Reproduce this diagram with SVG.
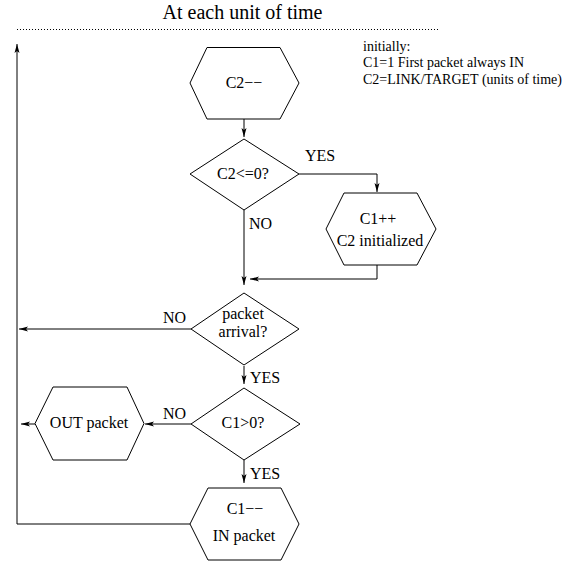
<svg xmlns="http://www.w3.org/2000/svg" width="581" height="563" viewBox="0 0 581 563">
<style>
.shape{fill:#fff;stroke:#000;stroke-width:1}
.ln{fill:none;stroke:#000;stroke-width:1}
.t{font-family:"Liberation Serif","Times New Roman",serif;font-size:16px;fill:#000}
.c{text-anchor:middle}
.note{font-family:"Liberation Serif","Times New Roman",serif;font-size:14px;fill:#000}
.title{font-family:"Liberation Serif","Times New Roman",serif;font-size:20px;fill:#000;text-anchor:middle}
</style>
<defs>
<marker id="ah" viewBox="0 0 9 6" refX="9" refY="3" markerWidth="9" markerHeight="6" markerUnits="userSpaceOnUse" orient="auto">
<path d="M0,0.5 L9,3 L0,5.5 L2,3 z" fill="#000"/>
</marker>
</defs>
<rect width="581" height="563" fill="#fff"/>
<text class="title" x="242.5" y="19">At each unit of time</text>
<line x1="17" y1="29.5" x2="438" y2="29.5" stroke="#000" stroke-width="1" stroke-dasharray="1 2"/>
<g id="note">
<text class="note" x="363" y="51">initially:</text>
<text class="note" x="363" y="67">C1=1 First packet always IN</text>
<text class="note" x="363" y="84">C2=LINK/TARGET (units of time)</text>
</g>
<g id="connectors">
<path class="ln" d="M244,119 L244,137" marker-end="url(#ah)"/>
<path class="ln" d="M299,174 L377,174 L377,192" marker-end="url(#ah)"/>
<path class="ln" d="M244,210 L244,285" marker-end="url(#ah)"/>
<path class="ln" d="M377,265 L377,279 L250,279" marker-end="url(#ah)"/>
<path class="ln" d="M191,329 L19,329" marker-end="url(#ah)"/>
<path class="ln" d="M244,366 L244,384" marker-end="url(#ah)"/>
<path class="ln" d="M191,424 L145,424" marker-end="url(#ah)"/>
<path class="ln" d="M244,460 L244,483" marker-end="url(#ah)"/>
<path class="ln" d="M35,424 L21,424" marker-end="url(#ah)"/>
<path class="ln" d="M190,524 L17,524 L17,44" marker-end="url(#ah)"/>
<text class="t" x="305" y="161">YES</text>
<text class="t" x="249" y="229">NO</text>
<text class="t" x="163" y="323">NO</text>
<text class="t" x="250" y="383">YES</text>
<text class="t" x="163" y="419">NO</text>
<text class="t" x="250" y="479">YES</text>
</g>
<g id="c2dec">
<polygon class="shape" points="207,47.5 280,47.5 299,83 280,119 207,119 190,83"/>
<text class="t c" x="244" y="88">C2−−</text>
</g>
<g id="c2check">
<polygon class="shape" points="244,139 299,174 244,210 190,174"/>
<text class="t c" x="243" y="179">C2&lt;=0?</text>
</g>
<g id="c1inc">
<polygon class="shape" points="344,193 417,193 436,229 417,265 344,265 326,229"/>
<text class="t c" x="378" y="224">C1++</text>
<text class="t c" x="380" y="246">C2 initialized</text>
</g>
<g id="arrival">
<polygon class="shape" points="244,293 299,329 244,365 191,329"/>
<text class="t c" x="243" y="319">packet</text>
<text class="t c" x="243" y="337">arrival?</text>
</g>
<g id="c1check">
<polygon class="shape" points="244,388 300,424 244,460 191,424"/>
<text class="t c" x="243" y="428">C1&gt;0?</text>
</g>
<g id="outpkt">
<polygon class="shape" points="53,387 127,387 144,423.5 127,460 53,460 35,423.5"/>
<text class="t c" x="89" y="428">OUT packet</text>
</g>
<g id="inpkt">
<polygon class="shape" points="208,488 281,488 299,524 281,560 208,560 190,524"/>
<text class="t c" x="245" y="514">C1−−</text>
<text class="t c" x="244" y="541">IN packet</text>
</g>
</svg>
